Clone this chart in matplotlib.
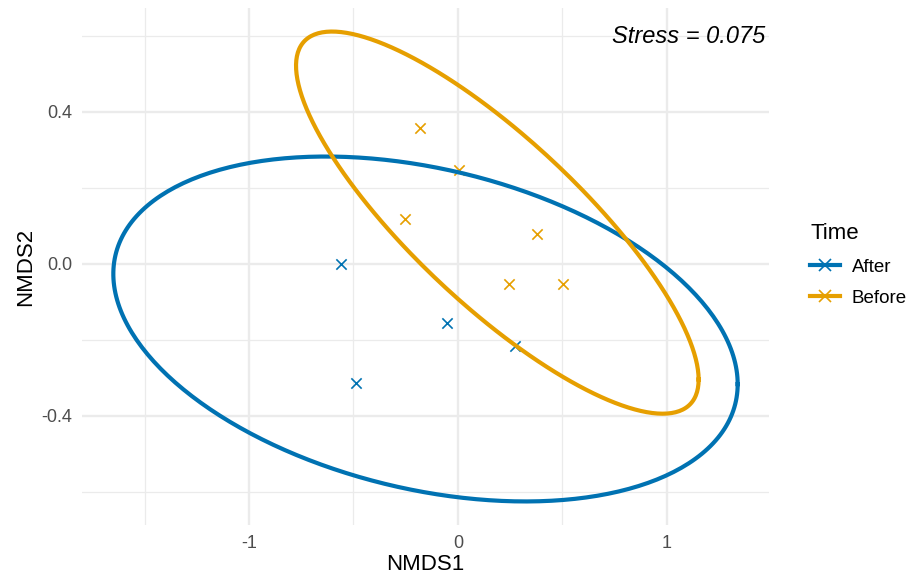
import numpy as np
import matplotlib.pyplot as plt

plt.rcParams['font.family'] = ['Liberation Sans', 'DejaVu Sans']

# NMDS scores
after_x = [-0.56, -0.49, -0.053, 0.273]
after_y = [0.0, -0.313, -0.155, -0.216]
before_x = [-0.18, 0.005, -0.254, 0.378, 0.244, 0.502]
before_y = [0.358, 0.247, 0.118, 0.079, -0.053, -0.053]

# ellipse parameters: centre, half extents in x and y, phase offset
ell_after = dict(cx=-0.155, cy=-0.172, rx=1.495, ry=0.454, phi=1.896)
ell_before = dict(cx=0.189, cy=0.108, rx=0.964, ry=0.503, phi=2.534)

groups = ['After', 'Before']
colors = {'After': '#0072B2', 'Before': '#E69F00'}
stress = 0.075

fig = plt.figure(figsize=(9.09, 5.75), dpi=100)
ax = fig.add_axes([82 / 909, 1 - 525 / 575, (769 - 82) / 909, (525 - 8) / 575])

# grid
for v in [-1.5, -0.5, 0.5]:
    ax.axvline(v, color='#EBEBEB', lw=0.9, zorder=0)
for v in [-1, 0, 1]:
    ax.axvline(v, color='#EBEBEB', lw=1.7, zorder=0)
for v in [-0.6, -0.2, 0.2, 0.6]:
    ax.axhline(v, color='#EBEBEB', lw=0.9, zorder=0)
for v in [-0.4, 0.0, 0.4]:
    ax.axhline(v, color='#EBEBEB', lw=1.7, zorder=0)

ax.scatter(after_x, after_y, marker='x', s=55, color=colors['After'], linewidths=1.2, zorder=2)
ax.scatter(before_x, before_y, marker='x', s=55, color=colors['Before'], linewidths=1.2, zorder=2)

t = np.linspace(0, 2 * np.pi, 300)
for g, e in zip(groups, [ell_after, ell_before]):
    ex = e['cx'] + e['rx'] * np.cos(t)
    ey = e['cy'] + e['ry'] * np.cos(t - e['phi'])
    ax.plot(ex, ey, color=colors[g], lw=3, zorder=3)

ax.set_xlim(-1.80, 1.49)
ax.set_ylim(-0.688, 0.673)
ax.set_xticks([-1, 0, 1])
ax.set_xticklabels(['-1', '0', '1'])
ax.set_yticks([-0.4, 0.0, 0.4])
ax.set_yticklabels(['-0.4', '0.0', '0.4'])
ax.tick_params(length=0, labelsize=13, labelcolor='#4D4D4D', pad=7)
for s in ax.spines.values():
    s.set_visible(False)
ax.set_xlabel('NMDS1', fontsize=16, labelpad=2)
ax.set_ylabel('NMDS2', fontsize=16, labelpad=4)

ax.text(0.995, 0.945, f'Stress = {stress}', transform=ax.transAxes, ha='right', va='center',
        fontsize=17, style='italic')

handles = [plt.Line2D([], [], color=colors[g], lw=3, marker='x', markersize=8,
                      markeredgewidth=1.2) for g in groups]
leg = fig.legend(handles, groups, title='Time', loc='upper left',
                 bbox_to_anchor=(801 / 909, 1 - 214 / 575), frameon=False, borderpad=0,
                 fontsize=13.5, title_fontsize=16, handlelength=1.6, labelspacing=0.75,
                 handletextpad=0.6)
leg._legend_box.align = 'left'

fig.savefig('out.png', dpi=100)
